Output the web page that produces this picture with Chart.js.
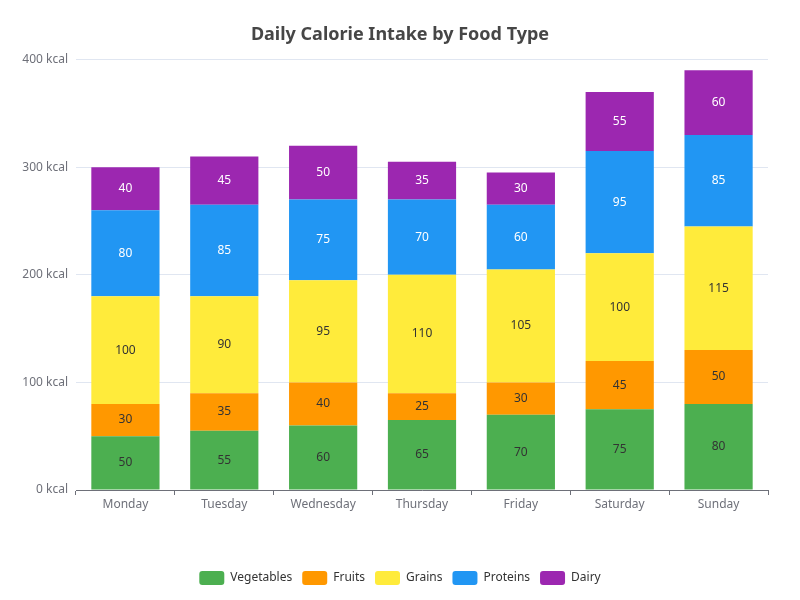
<!DOCTYPE html>
<html>
<head>
<meta charset="utf-8">
<script src="https://cdn.jsdelivr.net/npm/chart.js@4/dist/chart.umd.min.js"></script>
<style>
  html, body { margin: 0; padding: 0; background: #fff; }
  #wrap { width: 800px; height: 600px; }
</style>
</head>
<body>
<div id="wrap"><canvas id="calChart" width="800" height="600"></canvas></div>
<script>
const days = ['Monday', 'Tuesday', 'Wednesday', 'Thursday', 'Friday', 'Saturday', 'Sunday'];
const vegetables = [50, 55, 60, 65, 70, 75, 80];
const fruits = [30, 35, 40, 25, 30, 45, 50];
const grains = [100, 90, 95, 110, 105, 100, 115];
const proteins = [80, 85, 75, 70, 60, 95, 85];
const dairy = [40, 45, 50, 35, 30, 55, 60];

const FONT = '"Noto Sans", "Open Sans", sans-serif';

// draws the value in the middle of each segment
const segmentLabels = {
    id: 'segmentLabels',
    afterDatasetsDraw(chart) {
        const ctx = chart.ctx;
        ctx.save();
        ctx.font = '12px ' + FONT;
        ctx.textAlign = 'center';
        ctx.textBaseline = 'middle';
        chart.data.datasets.forEach((ds, i) => {
            const meta = chart.getDatasetMeta(i);
            meta.data.forEach((bar, j) => {
                ctx.fillStyle = ds.labelColor;
                ctx.fillText(ds.data[j], bar.x, (bar.y + bar.base) / 2);
            });
        });
        ctx.restore();
    }
};

// center title and legend on the full canvas, not the padded area
const centerBlocks = {
    id: 'centerBlocks',
    afterLayout(chart) {
        [chart.titleBlock, chart.legend].forEach(b => {
            if (!b) return;
            b.left = 0;
            b.right = chart.width;
            b.width = chart.width;
        });
    }
};

const ctx = document.getElementById('calChart').getContext('2d');
new Chart(ctx, {
    type: 'bar',
    data: {
        labels: days,
        datasets: [
            { label: 'Vegetables', data: vegetables, backgroundColor: '#4CAF50', labelColor: '#333' },
            { label: 'Fruits', data: fruits, backgroundColor: '#FF9800', labelColor: '#333' },
            { label: 'Grains', data: grains, backgroundColor: '#FFEB3B', labelColor: '#333' },
            { label: 'Proteins', data: proteins, backgroundColor: '#2196F3', labelColor: '#fff' },
            { label: 'Dairy', data: dairy, backgroundColor: '#9C27B0', labelColor: '#fff' }
        ]
    },
    options: {
        responsive: false,
        animation: false,
        datasets: {
            bar: { categoryPercentage: 1, barPercentage: 0.69 }
        },
        layout: { padding: { left: 0, right: 32, top: 0, bottom: 5 } },
        scales: {
            x: {
                stacked: true,
                grid: { offset: true, drawOnChartArea: false, color: '#6E7079', tickLength: 5 },
                border: { color: '#6E7079' },
                ticks: { color: '#6E7079', font: { family: FONT, size: 12 }, padding: 2 },
                afterFit: s => { s.height = 71; }
            },
            y: {
                stacked: true,
                min: 0,
                max: 400,
                grid: { color: '#E0E6F1', drawTicks: false },
                border: { display: false },
                ticks: {
                    stepSize: 100,
                    color: '#6E7079',
                    padding: 8,
                    font: { family: FONT, size: 12 },
                    callback: v => v + ' kcal'
                },
                afterFit: s => { s.width = 76; }
            }
        },
        plugins: {
            title: {
                display: true,
                text: 'Daily Calorie Intake by Food Type',
                color: '#464646',
                font: { family: FONT, size: 18, weight: 'bold' },
                padding: { top: 24, bottom: 14 }
            },
            legend: {
                position: 'bottom',
                labels: {
                    boxWidth: 25,
                    boxHeight: 14,
                    useBorderRadius: true,
                    borderRadius: 3,
                    color: '#333',
                    padding: 10,
                    font: { family: FONT, size: 12 }
                }
            },
            tooltip: { enabled: false }
        }
    },
    plugins: [segmentLabels, centerBlocks]
});
</script>
</body>
</html>
